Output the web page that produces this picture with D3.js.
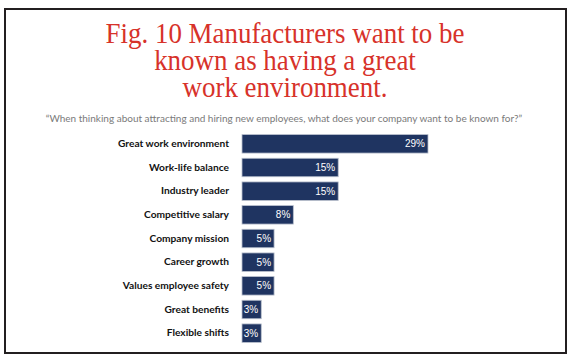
<!DOCTYPE html>
<html><head><meta charset="utf-8">
<script src="https://cdn.jsdelivr.net/npm/d3@7"></script>
<style>body{margin:0;background:#fff}svg{display:block}</style>
</head><body>
<svg id="c" width="570" height="362"></svg>
<script>
const titleLines = ["Fig. 10 Manufacturers want to be", "known as having a great", "work environment."];
const subtitle = "\u201CWhen thinking about attracting and hiring new employees, what does your company want to be known for?\u201D";
const categories = ["Great work environment","Work-life balance","Industry leader","Competitive salary","Company mission","Career growth","Values employee safety","Great benefits","Flexible shifts"];
const values = [29,15,15,8,5,5,5,3,3];

const svg = d3.select("#c");
svg.append("rect").attr("x",5).attr("y",9).attr("width",561).attr("height",344)
  .attr("fill","#fff").attr("stroke","#231f20").attr("stroke-width",2);

svg.append("g").attr("transform","translate(285,0) scale(0.945,1)")
  .selectAll("text").data(titleLines).join("text")
  .attr("x",0).attr("y",(d,i)=>43.5+i*26.7)
  .attr("text-anchor","middle")
  .attr("font-family","Liberation Serif, serif").attr("font-size",28.5)
  .attr("fill","#d7322a").text(d=>d);

svg.append("text").attr("x",284).attr("y",122).attr("text-anchor","middle")
  .attr("font-family","Lato, sans-serif").attr("font-size",10).attr("fill","#7a7a7a").text(subtitle);

const x = d3.scaleLinear().domain([0,29]).range([242,428]);
const y = d3.scaleBand().domain(categories).range([132,345]).paddingInner(0.22).paddingOuter(0.11);

const g = svg.append("g");
g.selectAll("rect").data(categories).join("rect")
  .attr("x",x(0)).attr("y",d=>y(d)).attr("width",(d,i)=>x(values[i])-x(0)).attr("height",y.bandwidth())
  .attr("fill","#1f3461").attr("stroke","#b8bfcc").attr("stroke-width",0.8);

g.selectAll("text.v").data(categories).join("text").attr("class","v")
  .attr("x",(d,i)=>x(values[i])-3).attr("y",d=>y(d)+y.bandwidth()/2+3.5)
  .attr("text-anchor","end").attr("font-family","Liberation Sans, Arial, sans-serif").attr("font-size",10)
  .attr("fill","#fff").text((d,i)=>values[i]+"%");

const yAxis = d3.axisLeft(y).tickSize(0).tickPadding(13);
const ag = svg.append("g").attr("transform",`translate(${x(0)},0)`).call(yAxis);
ag.select(".domain").remove();
ag.selectAll("text").attr("font-family","Lato, sans-serif").attr("font-weight","bold").attr("font-size",10.2).attr("fill","#111");
</script>
</body></html>
